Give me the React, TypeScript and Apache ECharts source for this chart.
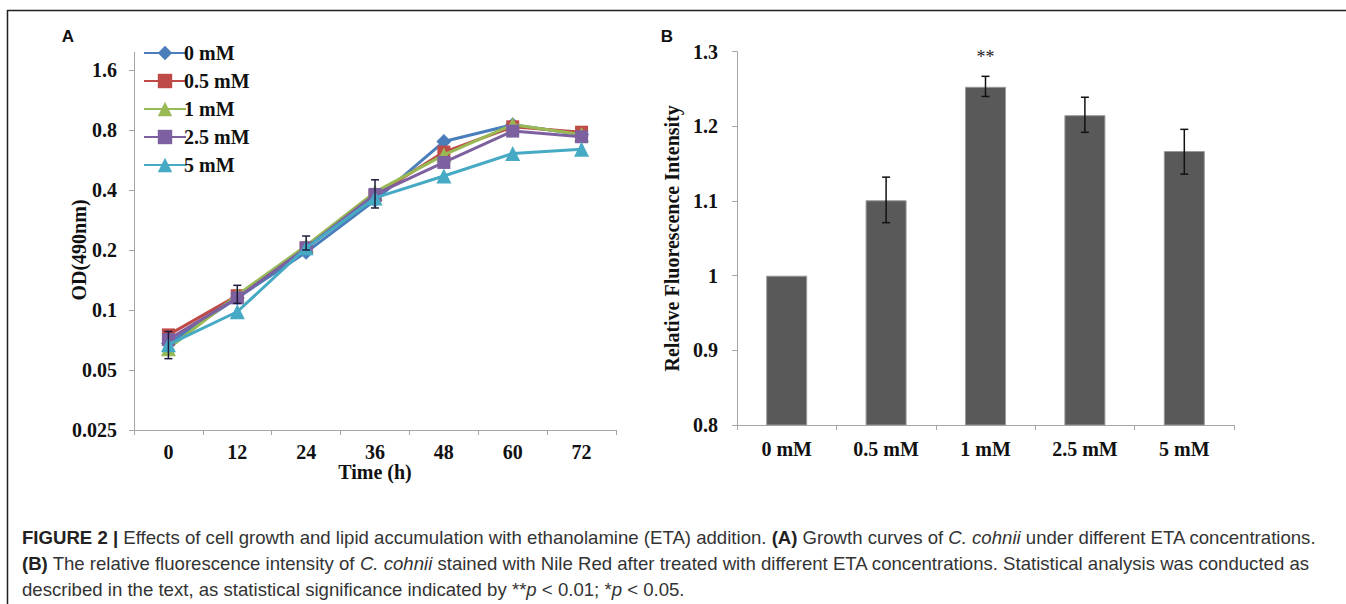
import React, { useEffect, useRef } from 'react';
import * as echarts from 'echarts';

// ---------- Panel A data ----------
const timeLabels = ['0', '12', '24', '36', '48', '60', '72'];
const odTickLabels = ['0.025', '0.05', '0.1', '0.2', '0.4', '0.8', '1.6'];
const seriesNamesA = ['0 mM', '0.5 mM', '1 mM', '2.5 mM', '5 mM'];
const od0mM = [0.068, 0.115, 0.195, 0.355, 0.7, 0.85, 0.76];
const od05mM = [0.075, 0.118, 0.205, 0.375, 0.62, 0.83, 0.78];
const od1mM = [0.064, 0.119, 0.21, 0.39, 0.6, 0.85, 0.76];
const od25mM = [0.071, 0.115, 0.205, 0.38, 0.55, 0.79, 0.74];
const od5mM = [0.067, 0.098, 0.205, 0.365, 0.47, 0.61, 0.64];
const od1mMLow = [0.057, 0.108, 0.2, 0.325, null, null, null];
const od1mMHigh = [0.078, 0.133, 0.235, 0.45, null, null, null];

// ---------- Panel B data ----------
const concLabels = ['0 mM', '0.5 mM', '1 mM', '2.5 mM', '5 mM'];
const rfi = [1.0, 1.101, 1.253, 1.215, 1.167];
const rfiLow = [null, 1.071, 1.24, 1.192, 1.136];
const rfiHigh = [null, 1.132, 1.267, 1.239, 1.196];
const rfiSig = ['', '', '**', '', ''];

const colorsA = ['#4a7ebb', '#be4b48', '#98b954', '#7d60a0', '#46aac5'];
const symbolsA = ['diamond', 'rect', 'triangle', 'rect', 'triangle'];
const symbolSizesA = [15, 13, 15, 13, 15];

const SERIF = '"Liberation Serif", "Times New Roman", serif';
const SANS = '"Liberation Sans", Arial, Helvetica, sans-serif';
const AXIS_GRAY = '#a6a6a6';
const CAP_SIZE = 18.6;

const OD_BASE = 0.025;
const toLog = (v: number) => Math.log2(v / OD_BASE);

export default function App() {
  const ref = useRef<HTMLDivElement>(null);

  useEffect(() => {
    if (!ref.current) return;
    const chart = echarts.init(ref.current, undefined, { renderer: 'svg' });

    const allA = [od0mM, od05mM, od1mM, od25mM, od5mM];

    const lineSeries = allA.map((arr, k) => ({
      name: seriesNamesA[k],
      type: 'line',
      xAxisIndex: 0,
      yAxisIndex: 0,
      data: arr.map((v) => toLog(v)),
      symbol: symbolsA[k],
      symbolSize: symbolSizesA[k],
      showSymbol: true,
      lineStyle: { color: colorsA[k], width: 3 },
      itemStyle: { color: colorsA[k] },
      z: 3 + k,
    }));

    const errAData: number[][] = [];
    od1mMLow.forEach((lo, i) => {
      const hi = od1mMHigh[i];
      if (lo != null && hi != null) errAData.push([i, toLog(lo), toLog(hi)]);
    });

    const errBData: number[][] = [];
    rfiLow.forEach((lo, i) => {
      const hi = rfiHigh[i];
      if (lo != null && hi != null) errBData.push([i, lo, hi, i]);
    });

    const errRender = (color: string, cap: number, withSig: boolean) => (params: any, api: any) => {
      const x = api.value(0);
      const lo = api.coord([x, api.value(1)]);
      const hi = api.coord([x, api.value(2)]);
      const children: any[] = [
        { type: 'line', shape: { x1: lo[0], y1: lo[1], x2: hi[0], y2: hi[1] }, style: { stroke: color, lineWidth: 1.5 } },
        { type: 'line', shape: { x1: lo[0] - cap, y1: lo[1], x2: lo[0] + cap, y2: lo[1] }, style: { stroke: color, lineWidth: 1.5 } },
        { type: 'line', shape: { x1: hi[0] - cap, y1: hi[1], x2: hi[0] + cap, y2: hi[1] }, style: { stroke: color, lineWidth: 1.5 } },
      ];
      if (withSig) {
        const idx = api.value(3);
        const s = rfiSig[idx];
        if (s) {
          children.push({
            type: 'text',
            x: hi[0],
            y: hi[1] - 19,
            style: { text: s, fill: '#222', fontSize: 18, fontFamily: SERIF, align: 'center', verticalAlign: 'middle' },
          });
        }
      }
      return { type: 'group', children };
    };

    const tickLabelStyle = { fontFamily: SERIF, fontWeight: 'bold', fontSize: 20, color: '#111' };
    const nameStyle = { fontFamily: SERIF, fontWeight: 'bold', fontSize: 20, color: '#111' };

    const capBase = { fontFamily: SANS, fontSize: CAP_SIZE, fill: '#333' };
    const capRich = {
      b: { fontFamily: SANS, fontSize: CAP_SIZE, fontWeight: 'bold', fill: '#222' },
      i: { fontFamily: SANS, fontSize: CAP_SIZE, fontStyle: 'italic', fill: '#333' },
    };

    const option: any = {
      animation: false,
      backgroundColor: '#ffffff',
      grid: [
        { left: 134, top: 70, width: 482, height: 360 },
        { left: 737, top: 51.7, width: 497, height: 373.3 },
      ],
      legend: {
        show: true,
        orient: 'vertical',
        left: 138,
        top: 38,
        itemWidth: 42,
        itemHeight: 18,
        itemGap: 8,
        data: seriesNamesA,
        textStyle: { fontFamily: SERIF, fontWeight: 'bold', fontSize: 20, color: '#111', padding: [0, 0, 0, -7] },
      },
      xAxis: [
        {
          type: 'category',
          gridIndex: 0,
          data: timeLabels,
          boundaryGap: true,
          axisLine: { lineStyle: { color: AXIS_GRAY, width: 1 } },
          axisTick: { show: true, length: 5, lineStyle: { color: AXIS_GRAY } },
          axisLabel: { ...tickLabelStyle, margin: 12 },
          name: 'Time (h)',
          nameLocation: 'middle',
          nameGap: 32,
          nameMoveOverlap: false,
          nameTextStyle: nameStyle,
        },
        {
          type: 'category',
          gridIndex: 1,
          data: concLabels,
          boundaryGap: true,
          axisLine: { lineStyle: { color: AXIS_GRAY, width: 1 } },
          axisTick: { show: true, length: 5, lineStyle: { color: AXIS_GRAY } },
          axisLabel: { ...tickLabelStyle, margin: 14 },
        },
      ],
      yAxis: [
        {
          type: 'value',
          gridIndex: 0,
          min: 0,
          max: 6,
          interval: 1,
          axisLine: { show: true, lineStyle: { color: AXIS_GRAY, width: 1 } },
          axisTick: { show: true, length: 5, lineStyle: { color: AXIS_GRAY } },
          splitLine: { show: false },
          axisLabel: { ...tickLabelStyle, margin: 17, formatter: (v: number) => odTickLabels[Math.round(v)] },
          name: 'OD(490nm)',
          nameLocation: 'middle',
          nameGap: 45,
          nameRotate: 90,
          nameMoveOverlap: false,
          nameTextStyle: nameStyle,
        },
        {
          type: 'value',
          gridIndex: 1,
          min: 0.8,
          max: 1.3,
          interval: 0.1,
          axisLine: { show: true, lineStyle: { color: AXIS_GRAY, width: 1 } },
          axisTick: { show: true, length: 5, lineStyle: { color: AXIS_GRAY } },
          splitLine: { show: false },
          axisLabel: { ...tickLabelStyle, margin: 19 },
          name: 'Relative Fluorescence Intensity',
          nameLocation: 'middle',
          nameGap: 55,
          nameRotate: 90,
          nameMoveOverlap: false,
          nameTextStyle: nameStyle,
        },
      ],
      series: [
        ...lineSeries,
        {
          type: 'custom',
          xAxisIndex: 0,
          yAxisIndex: 0,
          data: errAData,
          encode: { x: 0, y: [1, 2] },
          renderItem: errRender('#1c1c3a', 4, false),
          z: 10,
        },
        {
          type: 'bar',
          xAxisIndex: 1,
          yAxisIndex: 1,
          data: rfi,
          barWidth: 41,
          itemStyle: { color: '#595959', borderColor: '#9a9a9a', borderWidth: 1 },
          z: 2,
        },
        {
          type: 'custom',
          xAxisIndex: 1,
          yAxisIndex: 1,
          data: errBData,
          encode: { x: 0, y: [1, 2] },
          renderItem: errRender('#111', 4, true),
          z: 10,
        },
      ],
      graphic: [
        { type: 'line', shape: { x1: 7, y1: 10.5, x2: 1346, y2: 10.5 }, style: { stroke: '#231f20', lineWidth: 1.5 } },
        { type: 'line', shape: { x1: 7.5, y1: 10, x2: 7.5, y2: 604 }, style: { stroke: '#231f20', lineWidth: 1.5 } },
        { type: 'line', shape: { x1: 134.5, y1: 52, x2: 134.5, y2: 70 }, style: { stroke: AXIS_GRAY, lineWidth: 1 } },
        { type: 'text', x: 68, y: 36, style: { text: 'A', fontFamily: SANS, fontWeight: 'bold', fontSize: 17, fill: '#111', align: 'center', verticalAlign: 'middle' } },
        { type: 'text', x: 667, y: 36, style: { text: 'B', fontFamily: SANS, fontWeight: 'bold', fontSize: 17, fill: '#111', align: 'center', verticalAlign: 'middle' } },
        {
          type: 'text',
          x: 22,
          y: 537,
          style: {
            text: '{b|FIGURE 2 |} Effects of cell growth and lipid accumulation with ethanolamine (ETA) addition. {b|(A)} Growth curves of {i|C. cohnii} under different ETA concentrations.',
            ...capBase,
            verticalAlign: 'middle',
            rich: capRich,
          },
        },
        {
          type: 'text',
          x: 22,
          y: 563,
          style: {
            text: '{b|(B)} The relative fluorescence intensity of {i|C. cohnii} stained with Nile Red after treated with different ETA concentrations. Statistical analysis was conducted as',
            ...capBase,
            verticalAlign: 'middle',
            rich: capRich,
          },
        },
        {
          type: 'text',
          x: 22,
          y: 589,
          style: {
            text: 'described in the text, as statistical significance indicated by **{i|p} < 0.01; *{i|p} < 0.05.',
            ...capBase,
            verticalAlign: 'middle',
            rich: capRich,
          },
        },
      ],
    };

    chart.setOption(option);
    return () => chart.dispose();
  }, []);

  return (
    <div
      ref={ref}
      style={{ position: 'fixed', left: 0, top: 0, width: 1346, height: 604, background: '#fff' }}
    />
  );
}
